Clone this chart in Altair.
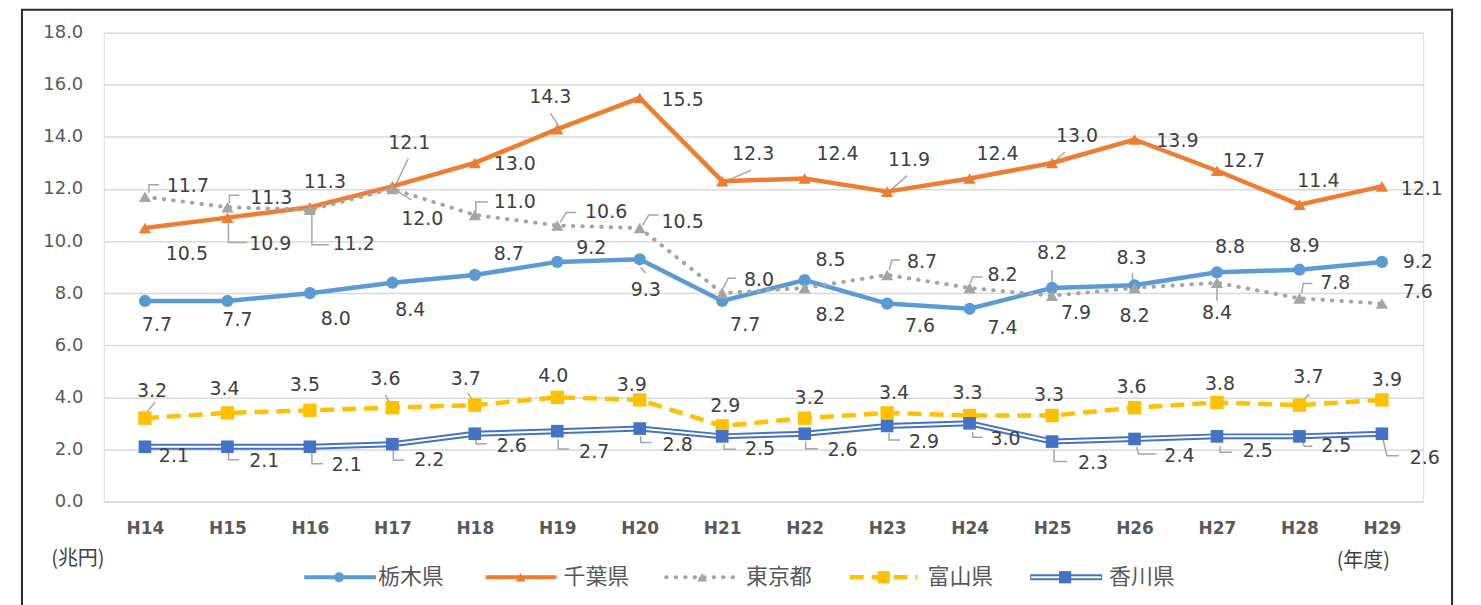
import altair as alt
import pandas as pd

# ---------------- data ----------------
years = ["H14", "H15", "H16", "H17", "H18", "H19", "H20", "H21",
         "H22", "H23", "H24", "H25", "H26", "H27", "H28", "H29"]
series_names = ["栃木県", "千葉県", "東京都", "富山県", "香川県"]
tochigi = [7.7, 7.7, 8.0, 8.4, 8.7, 9.2, 9.3, 7.7, 8.5, 7.6, 7.4, 8.2, 8.3, 8.8, 8.9, 9.2]
chiba = [10.5, 10.9, 11.3, 12.1, 13.0, 14.3, 15.5, 12.3, 12.4, 11.9, 12.4, 13.0, 13.9, 12.7, 11.4, 12.1]
tokyo = [11.7, 11.3, 11.2, 12.0, 11.0, 10.6, 10.5, 8.0, 8.2, 8.7, 8.2, 7.9, 8.2, 8.4, 7.8, 7.6]
toyama = [3.2, 3.4, 3.5, 3.6, 3.7, 4.0, 3.9, 2.9, 3.2, 3.4, 3.3, 3.3, 3.6, 3.8, 3.7, 3.9]
kagawa = [2.1, 2.1, 2.1, 2.2, 2.6, 2.7, 2.8, 2.5, 2.6, 2.9, 3.0, 2.3, 2.4, 2.5, 2.5, 2.6]
y_ticks = [0, 2, 4, 6, 8, 10, 12, 14, 16, 18]
y_unit = "(兆円)"
x_unit = "(年度)"

values = {"栃木県": tochigi, "千葉県": chiba, "東京都": tokyo, "富山県": toyama, "香川県": kagawa}

# ---------------- label placement (pixel offsets from each point) ----------------
label_offsets = {
    "栃木県": [(12, 24), (10, 19), (26, 26), (18, 27), (34, -21), (34, -14), (6, 31), (23, 24),
              (26, -20), (33, 23), (33, 19), (0, -35), (-3, -27), (13, -25), (5, -24), (36, 0)],
    "千葉県": [(42, 26), (43, 26), (15, -25), (17, -43), (40, 1), (-7, -32), (43, 2), (31, -27),
              (33, -25), (22, -32), (28, -25), (25, -27), (43, 2), (27, -10), (19, -24), (40, 3)],
    "東京都": [(43, -11), (44, -9), (44, 34), (30, 30), (40, -13), (49, -13), (43, -6), (37, -13),
              (26, 27), (35, -13), (33, -13), (24, 17), (0, 28), (0, 30), (36, -15), (36, -12)],
    "富山県": [(7, -27), (-3, -24), (-5, -25), (-7, -29), (-9, -26), (-4, -21), (-8, -15), (3, -20),
              (5, -20), (7, -20), (-2, -23), (-3, -21), (-3, -21), (3, -19), (9, -28), (5, -20)],
    "香川県": [(29, 9), (37, 14), (37, 18), (37, 16), (37, 12), (37, 21), (38, 17), (38, 13),
              (38, 16), (37, 16), (36, 16), (41, 21), (45, 17), (41, 15), (37, 10), (43, 24)],
}

leaders = [
    ("東京都", 0, [(4, -4), (4, -12), (14, -12)]),
    ("東京都", 1, [(2, -4), (2, -12), (12, -12)]),
    ("千葉県", 1, [(1, 5), (1, 25), (20, 25)]),
    ("東京都", 2, [(2, 5), (2, 35), (19, 35)]),
    ("千葉県", 3, [(4, -3), (16, -28)]),
    ("東京都", 3, [(6, 3), (19, 11)]),
    ("東京都", 4, [(1, -3), (1, -13), (13, -13)]),
    ("千葉県", 5, [(1, -4), (-7, -16)]),
    ("東京都", 5, [(3, -3), (9, -13), (19, -13)]),
    ("東京都", 6, [(3, -3), (9, -13), (19, -13)]),
    ("栃木県", 6, [(1, 8), (6, 14)]),
    ("千葉県", 7, [(6, -1), (29, -11)]),
    ("東京都", 7, [(0, -3), (6, -15), (14, -15)]),
    ("千葉県", 9, [(3, -1), (20, -16)]),
    ("東京都", 9, [(2, -5), (5, -15), (13, -15)]),
    ("東京都", 10, [(1, -5), (3, -11), (13, -11)]),
    ("千葉県", 11, [(5, -4), (13, -11)]),
    ("栃木県", 11, [(0, -5), (0, -18)]),
    ("栃木県", 12, [(-2, -3), (-2, -12)]),
    ("東京都", 13, [(0, 5), (0, 18)]),
    ("東京都", 14, [(2, -5), (4, -15), (13, -15)]),
    ("富山県", 0, [(2, -6), (10, -16)]),
    ("富山県", 3, [(-2, -3), (-7, -13)]),
    ("富山県", 4, [(-1, -3), (-7, -12)]),
    ("富山県", 14, [(3, -4), (10, -11)]),
    ("香川県", 1, [(1, 5), (1, 13), (12, 13)]),
    ("香川県", 2, [(2, 5), (2, 17), (13, 17)]),
    ("香川県", 3, [(1, 5), (1, 16), (12, 16)]),
    ("香川県", 4, [(1, 5), (1, 10), (12, 10)]),
    ("香川県", 5, [(1, 8), (1, 18), (12, 18)]),
    ("香川県", 6, [(1, 8), (1, 14), (12, 14)]),
    ("香川県", 7, [(2, 8), (2, 13), (14, 13)]),
    ("香川県", 8, [(1, 8), (1, 15), (13, 15)]),
    ("香川県", 9, [(2, 7), (2, 14), (13, 14)]),
    ("香川県", 10, [(3, 9), (3, 14), (13, 14)]),
    ("香川県", 11, [(2, 8), (2, 20), (15, 20)]),
    ("香川県", 12, [(2, 8), (4, 15), (22, 15)]),
    ("香川県", 13, [(3, 10), (3, 16), (15, 16)]),
    ("香川県", 14, [(2, 3), (5, 10), (13, 10)]),
    ("香川県", 15, [(1, 5), (5, 22), (17, 22)]),
]

# ---------------- tables ----------------
rows = []
for s in series_names:
    for i, (yr, v) in enumerate(zip(years, values[s])):
        dx, dy = label_offsets[s][i]
        rows.append({"series": s, "year": yr, "value": v, "dx": dx, "dy": dy})
df = pd.DataFrame(rows)

lrows = []
for lid, (s, i, pts) in enumerate(leaders):
    for k, (ox, oy) in enumerate(pts):
        lrows.append({"lid": lid, "k": k, "year": years[i], "value": values[s][i], "ox": ox, "oy": oy})
ldf = pd.DataFrame(lrows)

W, H = 1323, 470
Y_MAX = 18
PX = f"{Y_MAX}/{H}"  # data units per pixel on the y scale
NUM_FONT = "DejaVu Sans"
CJK_FONT = "Noto Sans CJK JP"

X = alt.X("year:N", sort=years, scale=alt.Scale(type="point", padding=0.5),
          axis=alt.Axis(title=None, labelAngle=0, domain=False, ticks=False, grid=False,
                        labelPadding=19, labelFontSize=17, labelColor="#595959",
                        labelFont=NUM_FONT, labelFontWeight="bold"))
Y = alt.Y("value:Q", scale=alt.Scale(domain=[0, Y_MAX], nice=False, zero=True),
          axis=alt.Axis(title=None, values=y_ticks, format=".1f", domain=False, ticks=False,
                        labelPadding=21, labelFontSize=18, labelColor="#595959",
                        labelFont=NUM_FONT, gridColor="#D9D9D9", gridWidth=1.5))
XS = alt.X("year:N", sort=years)

def sdata(name):
    return alt.Chart(df).transform_filter(alt.datum.series == name)

layers = []

# frame around chart
frame = alt.Chart(pd.DataFrame({"a": [0]})).mark_rect(
    fillOpacity=0, stroke="#2b2b2b", strokeWidth=2
).encode(x=alt.value(-82), x2=alt.value(1352), y=alt.value(-23), y2=alt.value(640))
layers.append(frame)

# axes base (grid)
layers.append(alt.Chart(df).mark_point(opacity=0).encode(x=X, y=Y))

# leader lines
layers.append(alt.Chart(ldf).transform_calculate(
    ly=f"datum.value - datum.oy * {PX}"
).mark_line(color="#A6A6A6", strokeWidth=1.5).encode(
    x=XS,
    y=alt.Y("ly:Q"),
    xOffset=alt.XOffset("ox:Q", scale=None),
    detail="lid:N",
    order="k:Q",
))

# 栃木県
layers.append(sdata("栃木県").mark_line(color="#5B9BD5", strokeWidth=4.5).encode(x=XS, y="value:Q"))
layers.append(sdata("栃木県").mark_point(shape="circle", filled=True, size=150, color="#5B9BD5",
                                         opacity=1).encode(x=XS, y="value:Q"))
# 千葉県
layers.append(sdata("千葉県").mark_line(color="#ED7D31", strokeWidth=4.5).encode(x=XS, y="value:Q"))
layers.append(sdata("千葉県").mark_point(shape="triangle-up", filled=True, size=150, color="#ED7D31",
                                         opacity=1).encode(x=XS, y="value:Q"))
# 東京都
layers.append(sdata("東京都").mark_line(color="#A5A5A5", strokeWidth=4, strokeDash=[0.5, 9],
                                        strokeCap="round").encode(x=XS, y="value:Q"))
layers.append(sdata("東京都").mark_point(shape="triangle-up", filled=True, size=150, color="#A5A5A5",
                                         opacity=1).encode(x=XS, y="value:Q"))
# 富山県
layers.append(sdata("富山県").mark_line(color="#FFC000", strokeWidth=4.5, strokeDash=[14, 8]).encode(
    x=XS, y="value:Q"))
layers.append(sdata("富山県").mark_point(shape="square", filled=True, size=180, color="#FFC000",
                                         opacity=1).encode(x=XS, y="value:Q"))
# 香川県 (double line)
layers.append(sdata("香川県").mark_line(color="#4472C4", strokeWidth=6).encode(x=XS, y="value:Q"))
layers.append(sdata("香川県").mark_line(color="#FFFFFF", strokeWidth=2).encode(x=XS, y="value:Q"))
layers.append(sdata("香川県").mark_point(shape="square", filled=True, size=160, color="#4472C4",
                                         opacity=1).encode(x=XS, y="value:Q"))

# data labels
layers.append(alt.Chart(df).transform_calculate(
    ly=f"datum.value - datum.dy * {PX}"
).mark_text(font=NUM_FONT, fontSize=19, color="#404040",
            align="center", baseline="middle").encode(
    x=XS,
    y=alt.Y("ly:Q"),
    xOffset=alt.XOffset("dx:Q", scale=None),
    text=alt.Text("value:Q", format=".1f"),
))

# unit labels
one = pd.DataFrame({"a": [0]})
layers.append(alt.Chart(one).mark_text(text=y_unit, font=CJK_FONT, fontSize=20, color="#404040",
                                       align="center", baseline="middle").encode(
    x=alt.value(-26), y=alt.value(528)))
layers.append(alt.Chart(one).mark_text(text=x_unit, font=CJK_FONT, fontSize=20, color="#404040",
                                       align="center", baseline="middle").encode(
    x=alt.value(1263), y=alt.value(530)))

# custom legend
LY = 546
legend_items = [
    ("栃木県", 201, 273, 236, 275),
    ("千葉県", 383, 454, 418, 461),
    ("東京都", 564, 634, 600, 644),
    ("富山県", 748, 816, 782, 826),
    ("香川県", 929, 1001, 964, 1008),
]
styles = {
    "栃木県": dict(color="#5B9BD5", strokeWidth=4),
    "千葉県": dict(color="#ED7D31", strokeWidth=4),
    "東京都": dict(color="#A5A5A5", strokeWidth=4, strokeDash=[0.5, 9], strokeCap="round"),
    "富山県": dict(color="#FFC000", strokeWidth=4.5, strokeDash=[14, 8]),
    "香川県": dict(color="#4472C4", strokeWidth=6),
}
markers = {
    "栃木県": ("circle", 100, "#5B9BD5"),
    "千葉県": ("triangle-up", 100, "#ED7D31"),
    "東京都": ("triangle-up", 100, "#A5A5A5"),
    "富山県": ("square", 150, "#FFC000"),
    "香川県": ("square", 150, "#4472C4"),
}
for name, x1, x2, xm, xt in legend_items:
    layers.append(alt.Chart(one).mark_rule(**styles[name]).encode(
        x=alt.value(x1), x2=alt.value(x2), y=alt.value(LY)))
    if name == "香川県":
        layers.append(alt.Chart(one).mark_rule(color="#FFFFFF", strokeWidth=2).encode(
            x=alt.value(x1 + 1), x2=alt.value(x2 - 1), y=alt.value(LY)))
    shp, sz, col = markers[name]
    layers.append(alt.Chart(one).mark_point(shape=shp, filled=True, size=sz, color=col,
                                            opacity=1).encode(x=alt.value(xm), y=alt.value(LY)))
    layers.append(alt.Chart(one).mark_text(text=name, font=CJK_FONT, fontSize=22, color="#595959",
                                           align="left", baseline="middle").encode(
        x=alt.value(xt), y=alt.value(LY)))

chart = alt.layer(*layers).properties(
    width=W, height=H,
    autosize=alt.AutoSizeParams(type="none"),
    padding={"left": 96, "top": 24, "right": 50, "bottom": 103},
).configure_view(stroke=None).configure(background="white")

chart.save("out.html", embed_options={"renderer": "svg", "actions": False})
